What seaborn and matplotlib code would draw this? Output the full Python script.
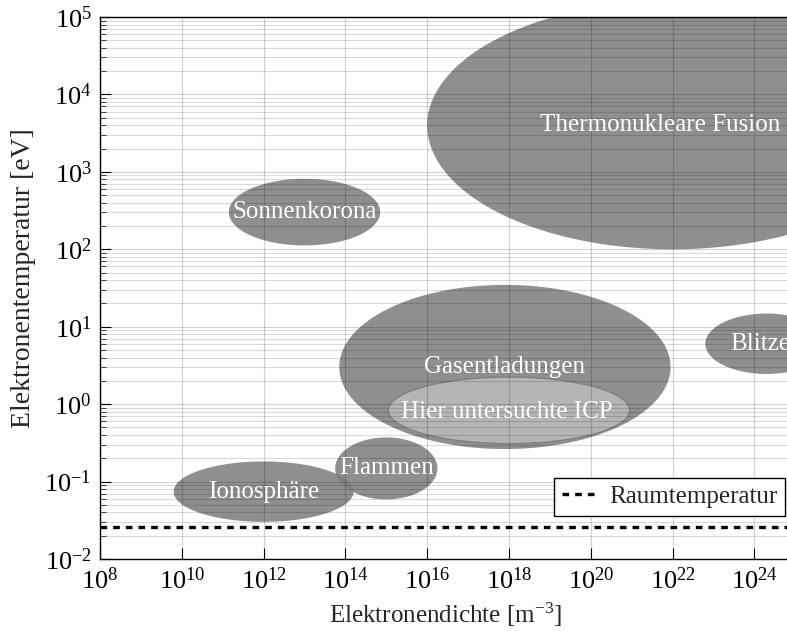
import numpy as np
import pandas as pd
import matplotlib
matplotlib.use("Agg")
import matplotlib.pyplot as plt
import seaborn as sns
from matplotlib.ticker import LogLocator, NullFormatter

# ---------------- data (log10 units) ----------------
region_names = ["Thermonukleare Fusion", "Sonnenkorona", "Gasentladungen",
                "Hier untersuchte ICP", "Flammen", "Ionosphäre", "Blitze"]
log_n_center = [22.0, 13.0, 17.9, 18.0, 15.0, 12.0, 24.3]
log_n_halfwidth = [6.0, 1.85, 4.05, 2.95, 1.25, 2.2, 1.5]
log_T_center = [3.6, 2.48, 0.48, -0.08, -0.83, -1.13, 0.78]
log_T_halfheight = [1.6, 0.43, 1.06, 0.43, 0.40, 0.39, 0.39]
label_log_n = [21.7, 13.0, 17.9, 17.95, 15.0, 12.0, 24.15]
label_log_T = [3.6, 2.48, 0.48, -0.1, -0.83, -1.13, 0.78]

room_temperature_eV = 0.0257
room_label = "Raumtemperatur"

x_ticks_exp = [8, 10, 12, 14, 16, 18, 20, 22, 24]
x_limits_exp = [8, 26]
y_limits_exp = [-2, 5]

# ---------------- style ----------------
sns.set_theme(style="ticks")
plt.rcParams["font.family"] = ["Liberation Serif", "DejaVu Serif"]
plt.rcParams["mathtext.fontset"] = "stix"

fig = plt.figure(figsize=(7.87, 6.31), dpi=100)
W, H = 787, 631
px_per_dec = 40.9
left_px, top_px, bottom_px = 100, 17, 559
right_px = left_px + (x_limits_exp[1] - x_limits_exp[0]) * px_per_dec
ax_w_px = right_px - left_px
ax_h_px = bottom_px - top_px
ax = fig.add_axes([left_px / W, 1 - bottom_px / H, ax_w_px / W, ax_h_px / H])

ax.set_xscale("log")
ax.set_yscale("log")
ax.set_xlim(10.0 ** x_limits_exp[0], 10.0 ** x_limits_exp[1])
ax.set_ylim(10.0 ** y_limits_exp[0], 10.0 ** y_limits_exp[1])

# ---------------- ellipses ----------------
t = np.linspace(0, 2 * np.pi, 400)
for i, name in enumerate(region_names):
    lx = log_n_center[i] + log_n_halfwidth[i] * np.cos(t)
    ly = log_T_center[i] + log_T_halfheight[i] * np.sin(t)
    if name == "Hier untersuchte ICP":
        ax.fill(10.0 ** lx, 10.0 ** ly, facecolor="#b5b5b5", edgecolor="#808080",
                linewidth=1.0, zorder=2)
    else:
        ax.fill(10.0 ** lx, 10.0 ** ly, facecolor="#7f7f7f", alpha=0.87,
                edgecolor="none", zorder=1)
    ax.text(10.0 ** label_log_n[i], 10.0 ** label_log_T[i], name, color="white",
            fontsize=18, ha="center", va="center", zorder=4, clip_on=True)

# ---------------- room temperature ----------------
df_room = pd.DataFrame({"n": [10.0 ** x_limits_exp[0], 10.0 ** x_limits_exp[1]],
                        "T": [room_temperature_eV, room_temperature_eV]})
sns.lineplot(data=df_room, x="n", y="T", ax=ax, color="black", linewidth=2.4,
             label=room_label, zorder=5)
line = ax.get_lines()[-1]
line.set_dashes((2.0, 1.8))
line.set_dash_capstyle("butt")

# ---------------- axes / grid ----------------
ax.set_xticks([10.0 ** e for e in x_ticks_exp])
ax.xaxis.set_minor_locator(plt.NullLocator())
ax.yaxis.set_major_locator(LogLocator(base=10, numticks=20))
ax.yaxis.set_minor_locator(LogLocator(base=10, subs=np.arange(2, 10), numticks=20))
ax.yaxis.set_minor_formatter(NullFormatter())

ax.set_axisbelow(False)
ax.grid(True, which="major", axis="both", color="black", alpha=0.18, linewidth=0.8)
ax.grid(True, which="minor", axis="y", color="black", alpha=0.15, linewidth=0.8)

ax.tick_params(axis="both", which="major", direction="in", length=8, width=0.8,
               labelsize=19, colors="black", pad=6)
ax.tick_params(axis="y", which="minor", direction="in", length=4, width=0.6)
for s in ["left", "bottom", "top"]:
    ax.spines[s].set_color("black")
    ax.spines[s].set_linewidth(1.0)
ax.spines["right"].set_visible(False)

ax.set_xlabel("Elektronendichte [m$^{\\mathregular{-3}}$]", fontsize=18)
ax.set_ylabel("Elektronentemperatur [eV]", fontsize=20)
ax.xaxis.set_label_coords((446 - left_px) / ax_w_px, -(600 - bottom_px) / ax_h_px)
ax.yaxis.set_label_coords(-(left_px - 36) / ax_w_px, 1 - (278 - top_px) / ax_h_px)

leg = ax.legend(loc="upper left", bbox_to_anchor=(554 / W, 1 - 478 / H),
                bbox_transform=fig.transFigure, borderaxespad=0, fontsize=18,
                frameon=True, fancybox=False, framealpha=1, edgecolor="black",
                handlelength=1.3, handletextpad=0.6, borderpad=0.3)
leg.get_frame().set_linewidth(1.0)
leg.set_zorder(6)

fig.savefig("out.png", dpi=100)
